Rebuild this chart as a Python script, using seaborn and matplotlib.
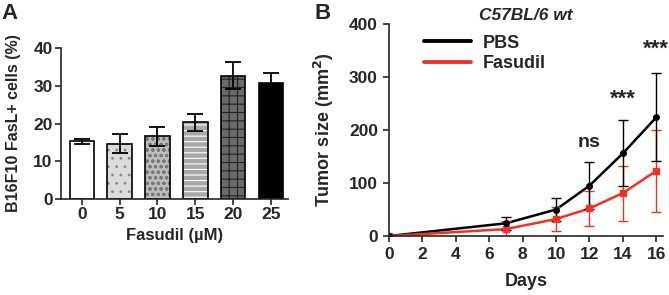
import numpy as np
import pandas as pd
import matplotlib
matplotlib.use("Agg")
import matplotlib.pyplot as plt
import seaborn as sns
from matplotlib.lines import Line2D

sns.set_style("ticks")
plt.rcParams['font.family'] = ['Liberation Sans', 'DejaVu Sans']
plt.rcParams['font.weight'] = 'bold'
plt.rcParams['hatch.linewidth'] = 0.8

# Panel A data
conc = ["0", "5", "10", "15", "20", "25"]
fasl_mean = [15.3, 14.7, 16.6, 20.3, 32.7, 30.6]
fasl_err = [0.6, 2.5, 2.6, 2.2, 3.5, 2.7]

# Panel B data
days = [0, 7, 10, 12, 14, 16]
pbs_mean = [0, 24, 50, 95, 156, 224]
pbs_err = [0, 12, 22, 44, 62, 83]
fas_mean = [0, 13, 32, 52, 81, 123]
fas_err = [0, 15, 22, 33, 52, 77]
signif_days = [12, 14, 16]
signif_text = ["ns", "***", "***"]

W, H = 669, 295
fig = plt.figure(figsize=(W/100, H/100), dpi=100)

# ---------- Panel A ----------
axA = fig.add_axes([61/W, (H-199)/H, (288-61)/W, (199-48)/H])
dfA = pd.DataFrame({"conc": conc, "val": fasl_mean})
sns.barplot(data=dfA, x="conc", y="val", ax=axA, errorbar=None,
            width=0.65, edgecolor="black", linewidth=1.2)
faces = ["white", "#dcdcdc", "#bdbdbd", "#a8a8a8", "#6a6a6a", "black"]
hatches = ["", "..", "ooo", "---", "++", ""]
hcols = ["black", "#888888", "#777777", "#ffffff", "#222222", "black"]
for p, fc, h, hc in zip(axA.patches, faces, hatches, hcols):
    p.set_facecolor(fc)
    p.set_hatch(h)
    p._hatch_color = matplotlib.colors.to_rgba(hc)
axA.errorbar(np.arange(len(conc)), fasl_mean, yerr=fasl_err, fmt="none",
             ecolor="black", elinewidth=1.3, capsize=6, capthick=1.3)
axA.set_ylim(0, 40)
axA.set_xlim(-0.55, 5.45)
axA.set_yticks([0, 10, 20, 30, 40])
axA.set_xlabel("Fasudil (µM)", fontsize=12, fontweight="bold", labelpad=4)
axA.set_ylabel("B16F10 FasL+ cells (%)", fontsize=11.5, fontweight="bold", labelpad=9)
axA.tick_params(labelsize=12.5, width=1.2, length=4, pad=2)
for lab in axA.get_xticklabels() + axA.get_yticklabels():
    lab.set_fontweight("bold")
sns.despine(ax=axA)
for s in ["left", "bottom"]:
    axA.spines[s].set_linewidth(1.2)

# ---------- Panel B ----------
axB = fig.add_axes([389/W, (H-236)/H, (663-389)/W, (236-24)/H])
dfB = pd.DataFrame({
    "Days": days + days,
    "size": pbs_mean + fas_mean,
    "group": ["PBS"] * len(days) + ["Fasudil"] * len(days),
})
pal = {"PBS": "black", "Fasudil": "#ee3322"}
sns.lineplot(data=dfB, x="Days", y="size", hue="group", palette=pal, ax=axB,
             linewidth=1.8, legend=False)
axB.errorbar(days, fas_mean, yerr=fas_err, fmt="s", color="#ee3322", ms=4,
             elinewidth=1.0, capsize=3.5, capthick=1.0)
axB.errorbar(days, pbs_mean, yerr=pbs_err, fmt="o", color="black", ms=4,
             elinewidth=1.0, capsize=3.5, capthick=1.0)
axB.set_xlim(0, 16.4)
axB.set_ylim(0, 400)
axB.set_xticks(range(0, 17, 2))
axB.set_yticks([0, 100, 200, 300, 400])
axB.set_xlabel("Days", fontsize=13, fontweight="bold", labelpad=8)
axB.set_ylabel("Tumor size (mm$^\\mathbf{2}$)", fontsize=13, fontweight="bold", labelpad=9)
axB.tick_params(labelsize=12.5, width=1.2, length=4, pad=4)
for lab in axB.get_xticklabels() + axB.get_yticklabels():
    lab.set_fontweight("bold")
sns.despine(ax=axB)
for s in ["left", "bottom"]:
    axB.spines[s].set_linewidth(1.2)
axB.set_title("C57BL/6 wt", fontsize=12.5, fontweight="bold", style="italic", pad=3)
handles = [Line2D([], [], color="black", lw=2.8), Line2D([], [], color="#ee3322", lw=2.8)]
axB.legend(handles, ["PBS", "Fasudil"], loc="upper left", bbox_to_anchor=(0.08, 1.01),
           frameon=False, prop={"weight": "bold", "size": 13}, handlelength=2.6,
           borderpad=0.2, labelspacing=0.2, handletextpad=0.7)
sig_y = [160, 238, 333]
for d, t, y in zip(signif_days, signif_text, sig_y):
    axB.text(d, y, t, ha="center", va="bottom", fontsize=14 if t == "ns" else 16,
             fontweight="bold")

fig.text(1/W, 1 - 3/H, "A", fontsize=16, fontweight="bold", va="top")
fig.text(314/W, 1 - 3/H, "B", fontsize=16, fontweight="bold", va="top")

fig.savefig("out.png", dpi=100)
